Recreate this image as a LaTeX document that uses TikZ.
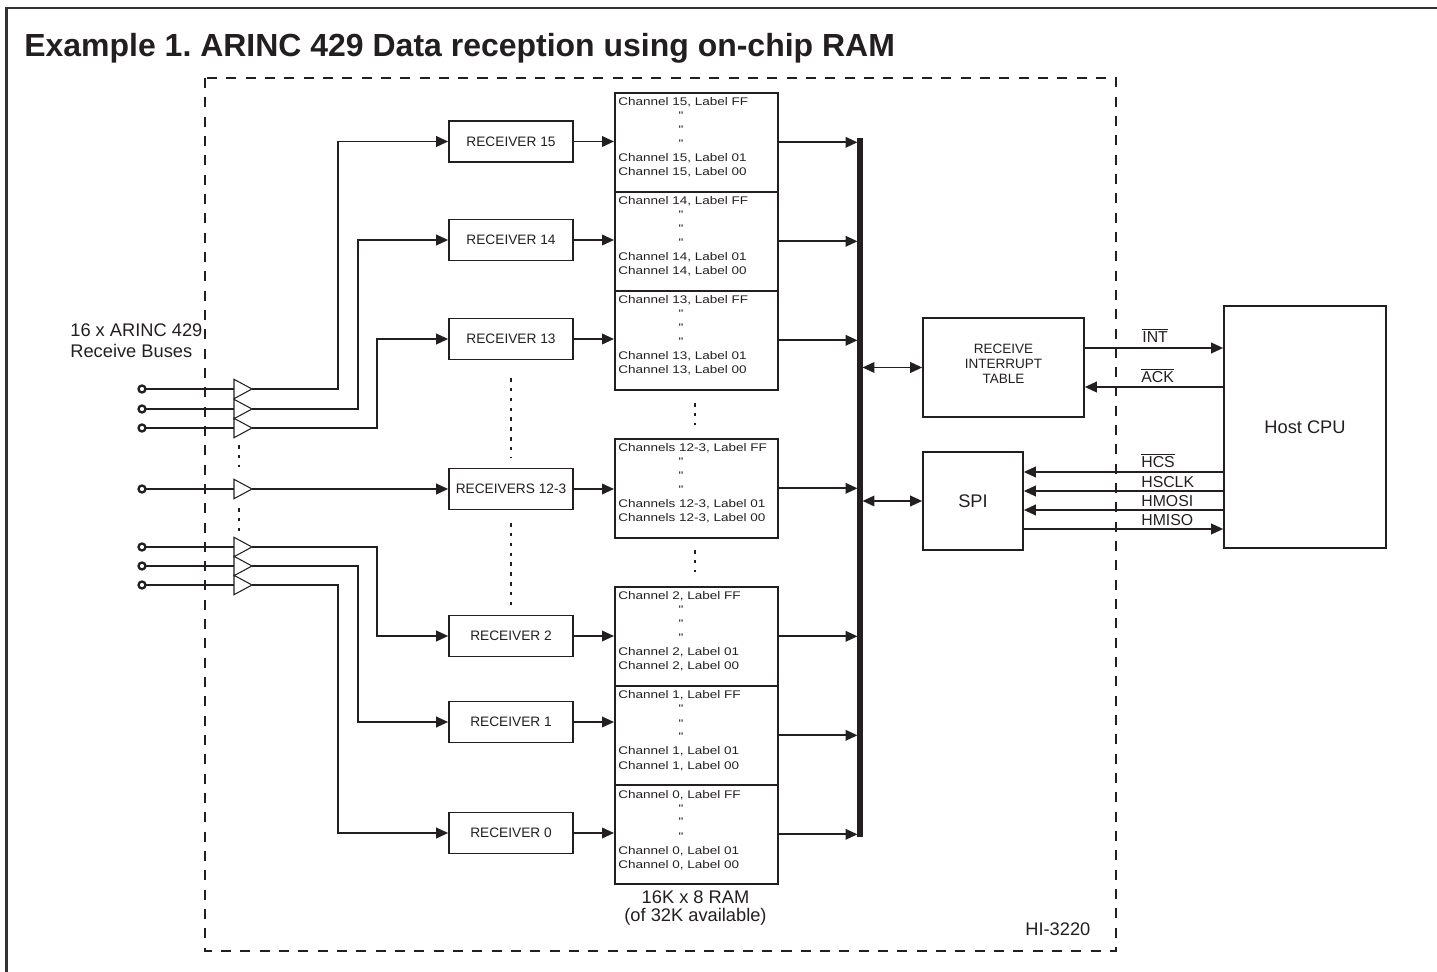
\documentclass[tikz,border=0pt]{standalone}
\usepackage{fontspec}
\setmainfont{Liberation Sans}
\newfontfamily\chfont[FakeStretch=1.22]{Liberation Sans}
\usetikzlibrary{arrows.meta,calc}
\definecolor{ink}{RGB}{35,31,32}
\frenchspacing
\newcommand\ovl[1]{$\overline{\mbox{#1}}$}
\newcommand\ramblock[3]{%
  \node[ram] (#1) at (614,#2) {};
  \node[chtxt, anchor=base west] (#1a) at (618,#2+14) {#3, Label FF};
  \node[chtxt, anchor=base] (#1b) at (681,#2+28) {"};
  \node[chtxt, anchor=base] (#1c) at (681,#2+42) {"};
  \node[chtxt, anchor=base] (#1d) at (681,#2+56) {"};
  \node[chtxt, anchor=base west] (#1e) at (618,#2+70) {#3, Label 01};
  \node[chtxt, anchor=base west] (#1f) at (618,#2+84) {#3, Label 00};
}
\begin{document}
\begin{tikzpicture}[x=0.02cm, y=-0.02cm, color=ink,
  blk/.style={draw=ink, line width=0.95pt, inner sep=0pt, text=ink, align=center},
  rcv/.style={blk, minimum width=2.48cm, minimum height=0.82cm, font=\fontsize{7.8}{9}\selectfont},
  ram/.style={blk, minimum width=3.26cm, minimum height=1.98cm, anchor=north west},
  chtxt/.style={inner sep=0pt, text=ink, font=\chfont\fontsize{6.3}{7}\selectfont},
  arr/.style={-{Triangle[length=6.8pt,width=6pt]}},
  conn/.style={draw=ink, line width=1.05pt, arr},
  dconn/.style={draw=ink, line width=1.05pt, {Triangle[length=6.8pt,width=6pt]}-{Triangle[length=6.8pt,width=6pt]}},
  term/.style={circle, draw=ink, line width=1.3pt, fill=white, minimum size=0.14cm, inner sep=0pt},
  dots/.style={draw=ink, line width=1.1pt, dash pattern=on 2pt off 3.6pt},
  big/.style={inner sep=0pt, text=ink, font=\fontsize{10.4}{12}\selectfont},
  sig/.style={inner sep=0pt, text=ink, font=\fontsize{9}{10}\selectfont}
]
\useasboundingbox (0,0) rectangle (1437,972);

% outer frame and title
\draw[line width=1.3pt, black!80] (6.5,972) -- (6.5,8) -- (1437,8);
\node[anchor=base west, inner sep=0pt, text=ink, font=\fontsize{18.2}{20}\bfseries\selectfont] (title) at (24,57) {Example 1. ARINC 429 Data reception using on-chip RAM};

% chip boundary
\draw[line width=1.1pt, dash pattern=on 5.7pt off 5.3pt] (205,78) rectangle (1116,951);
\node[big, anchor=base west] (chip) at (1025,935) {HI-3220};

% bus label
\node[big, anchor=base west] (lbl1) at (70,337) {16 x ARINC 429};
\node[big, anchor=base west] (lbl2) at (70,358) {Receive Buses};

% terminals and buffers
\foreach \i/\yy in {1/389,2/409,3/428,4/489,5/547,6/566,7/585} {
  \coordinate (bi\i) at (234,\yy);
  \coordinate (bo\i) at (252,\yy);
  \draw[line width=1.05pt] (142,\yy) -- (bi\i);
  \draw[line width=0.6pt] (234,\yy-9.7) -- (bo\i) -- (234,\yy+9.7) -- cycle;
  \node[term] (t\i) at (142,\yy) {};
}
\draw[dots] (239,445) -- (239,467);
\draw[dots] (239,508) -- (239,532);

% receivers
\node[rcv] (rec15) at (511,141.5) {RECEIVER 15};
\node[rcv] (rec14) at (511,240) {RECEIVER 14};
\node[rcv] (rec13) at (511,339) {RECEIVER 13};
\node[rcv] (rec12) at (511,489) {RECEIVERS 12-3};
\node[rcv] (rec2) at (511,636) {RECEIVER 2};
\node[rcv] (rec1) at (511,722) {RECEIVER 1};
\node[rcv] (rec0) at (511,833) {RECEIVER 0};
\draw[dots] (511,378) -- (511,458);
\draw[dots] (511,523) -- (511,605);

% buffer to receiver connections
\draw[conn] (bo1) -- ++(86,0) |- (rec15.west);
\draw[conn] (bo2) -- ++(106,0) |- (rec14.west);
\draw[conn] (bo3) -- ++(125,0) |- (rec13.west);
\draw[conn] (bo4) -- (rec12.west);
\draw[conn] (bo5) -- ++(125,0) |- (rec2.west);
\draw[conn] (bo6) -- ++(106,0) |- (rec1.west);
\draw[conn] (bo7) -- ++(86,0) |- (rec0.west);

% RAM blocks
\ramblock{ram15}{92}{Channel 15}
\ramblock{ram14}{191}{Channel 14}
\ramblock{ram13}{290}{Channel 13}
\ramblock{ram12}{438}{Channels 12-3}
\ramblock{ram2}{586}{Channel 2}
\ramblock{ram1}{685}{Channel 1}
\ramblock{ram0}{784}{Channel 0}
\draw[dots] (695,403) -- (695,425);
\draw[dots] (695,550) -- (695,572);
\node[big, anchor=base] (ramlbl1) at (695.5,903) {16K x 8 RAM};
\node[big, anchor=base] (ramlbl2) at (695.5,921) {(of 32K available)};

% receiver to RAM
\foreach \r in {15,14,13,12,2,1,0} {
  \draw[conn] (rec\r.east) -- (rec\r.east -| ram\r.west);
}

% bus
\coordinate (bustop) at (860,138);
\coordinate (busbot) at (860,837);
\coordinate (busL) at (857.5,0);
\coordinate (busR) at (862.5,0);
\draw[line width=2.9pt] (bustop) -- (busbot);
\foreach \r in {15,14,13,12,2,1,0} {
  \draw[conn] (ram\r.east) -- (ram\r.east -| busL);
}

% interrupt table, SPI, host
\node[blk, minimum width=3.22cm, minimum height=1.98cm] (rit) at (1003.5,367.5) {};
\node[inner sep=0pt, text=ink, align=center, font=\fontsize{7.7}{8.5}\selectfont] (ritlbl) at (1003.5,364) {RECEIVE\\INTERRUPT\\TABLE};
\node[blk, minimum width=2.0cm, minimum height=1.96cm, font=\fontsize{10.4}{12}\selectfont] (spi) at (973,501) {SPI};
\node[blk, minimum width=3.24cm, minimum height=4.84cm, font=\fontsize{10.4}{12}\selectfont] (host) at (1305,427) {Host CPU};

\draw[dconn] (busR |- rit.west) -- (rit.west);
\draw[dconn] (busR |- spi.west) -- (spi.west);

% host signals
\coordinate (yINT) at (0,348);
\coordinate (yACK) at (0,387);
\coordinate (yHCS) at (0,472);
\coordinate (yHSCLK) at (0,491);
\coordinate (yHMOSI) at (0,510);
\coordinate (yHMISO) at (0,529);
\draw[conn] (rit.east |- yINT) -- (host.west |- yINT);
\draw[conn] (host.west |- yACK) -- (rit.east |- yACK);
\draw[conn] (host.west |- yHCS) -- (spi.east |- yHCS);
\draw[conn] (host.west |- yHSCLK) -- (spi.east |- yHSCLK);
\draw[conn] (host.west |- yHMOSI) -- (spi.east |- yHMOSI);
\draw[conn] (spi.east |- yHMISO) -- (host.west |- yHMISO);
\node[sig, anchor=base west] (sINT) at (1142,343) {\ovl{INT}};
\node[sig, anchor=base west] (sACK) at (1141,383) {\ovl{ACK}};
\node[sig, anchor=base west] (sHCS) at (1141,468) {\ovl{HCS}};
\node[sig, anchor=base west] (sHSCLK) at (1141,488) {HSCLK};
\node[sig, anchor=base west] (sHMOSI) at (1141,507) {HMOSI};
\node[sig, anchor=base west] (sHMISO) at (1141,526) {HMISO};
\end{tikzpicture}
\end{document}
